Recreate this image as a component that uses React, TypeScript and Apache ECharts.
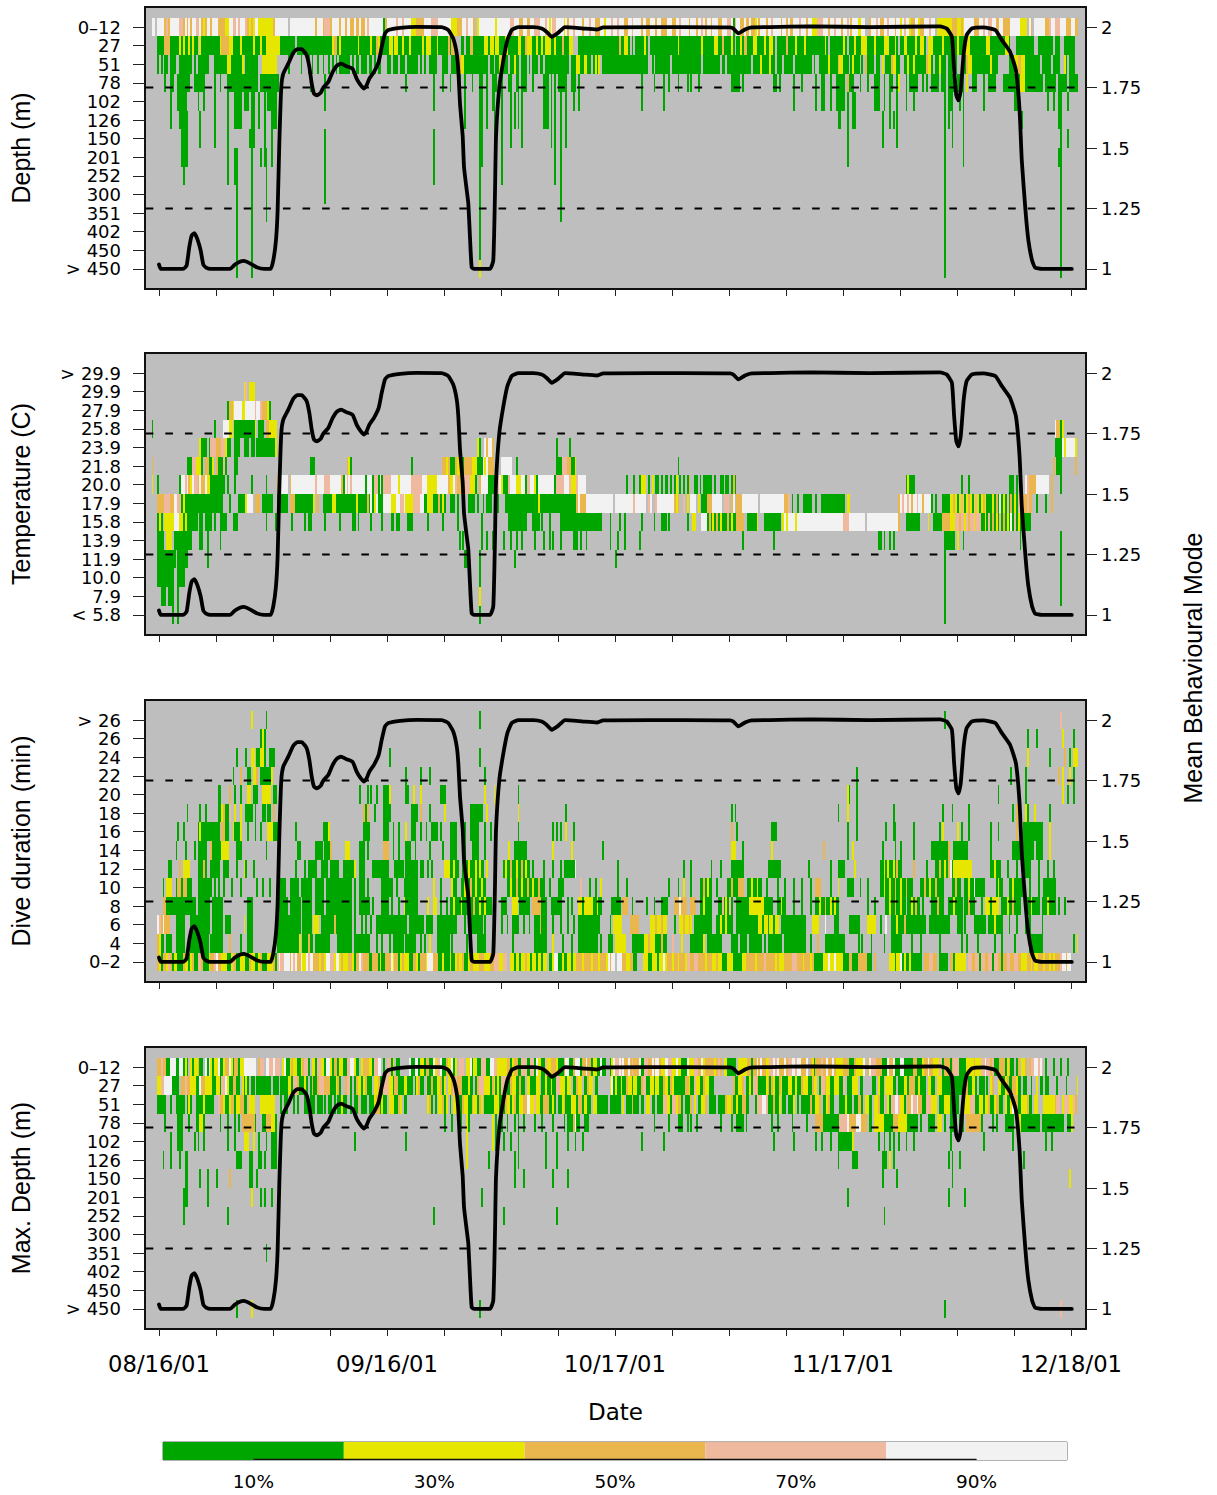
import React, { useEffect, useRef } from "react";
import * as echarts from "echarts";

const FONT = "Liberation Sans";
const WIDE_FONT = "DejaVu Sans";
const palette = ["#00A600", "#E6E600", "#EAB64E", "#EEB99F", "#F2F2F2"];
const codes = "gyopw";
const depthLabels = ["0–12", "27", "51", "78", "102", "126", "150", "201", "252", "300", "351", "402", "450", "> 450"];
const tempLabels = ["> 29.9", "29.9", "27.9", "25.8", "23.9", "21.8", "20.0", "17.9", "15.8", "13.9", "11.9", "10.0", "7.9", "< 5.8"];
const durationLabels = ["> 26", "26", "24", "22", "20", "18", "16", "14", "12", "10", "8", "6", "4", "0–2"];
const modeTicks = [1, 1.25, 1.5, 1.75, 2];
const dashLevels = [1.25, 1.75];
const dateTicks = [0, 31, 62, 93, 124];
const dateLabels = ["08/16/01", "09/16/01", "10/17/01", "11/17/01", "12/18/01"];
const minorTicks = [0, 7.75, 15.5, 23.25, 31, 38.75, 46.5, 54.25, 62, 69.75, 77.5, 85.25, 93, 100.75, 108.5, 116.25, 124];
const legendEdges = [0, 20, 40, 60, 80, 100];
const legendTicks = [10, 30, 50, 70, 90];

const lineDays = [0, 0.25, 3.3, 3.76, 4.12, 4.44, 4.8, 5.21, 5.67, 6.03, 6.48, 7.03, 9.65, 10.33, 11, 11.56, 12.37, 13.28, 14.28, 15.18, 15.54, 15.9, 16.13, 16.36, 16.63, 16.9, 17.58, 18.26, 18.8, 19.4, 20.08, 20.44, 20.76, 21.07, 21.44, 21.98, 22.34, 23.02, 23.62, 24.16, 24.74, 25.51, 26.33, 26.87, 27.42, 27.87, 28.24, 28.6, 29.23, 29.87, 30.28, 30.73, 31.18, 32.77, 35.04, 38.44, 39.33, 40, 40.48, 40.7, 40.93, 41.29, 41.47, 41.84, 42.06, 42.28, 42.51, 42.83, 45, 45.45, 45.68, 45.82, 46.27, 46.82, 47.36, 47.96, 48.86, 50.9, 52.04, 52.72, 53.4, 54.3, 55.2, 57.69, 59.5, 60.4, 66.75, 71.25, 77.63, 78.08, 78.76, 79.67, 80.58, 83.07, 88.5, 96.65, 106.2, 107.1, 107.8, 108.1, 108.4, 108.7, 109, 109.4, 109.8, 110.5, 112.1, 113.7, 114.6, 115.7, 116.5, 117, 117.3, 117.8, 118.2, 118.7, 119.1, 120, 124.1];
const lineModes = [1.018, 1, 1, 1.014, 1.09, 1.138, 1.148, 1.124, 1.076, 1.018, 1.004, 1, 1, 1.018, 1.03, 1.033, 1.023, 1.007, 1, 1, 1.035, 1.117, 1.24, 1.518, 1.753, 1.808, 1.849, 1.894, 1.909, 1.909, 1.884, 1.836, 1.767, 1.725, 1.718, 1.728, 1.75, 1.773, 1.815, 1.84, 1.849, 1.838, 1.827, 1.787, 1.76, 1.746, 1.76, 1.787, 1.815, 1.856, 1.918, 1.974, 1.988, 1.997, 2.001, 2, 1.988, 1.953, 1.891, 1.82, 1.68, 1.55, 1.421, 1.325, 1.269, 1.131, 1.007, 1, 1, 1.035, 1.311, 1.546, 1.753, 1.863, 1.946, 1.988, 2, 2, 1.994, 1.98, 1.96, 1.977, 2, 1.994, 1.99, 1.999, 2, 2, 1.999, 1.994, 1.974, 1.99, 1.999, 2, 2.003, 2, 2.003, 1.994, 1.96, 1.822, 1.718, 1.697, 1.739, 1.89, 1.967, 1.994, 1.999, 1.988, 1.946, 1.898, 1.822, 1.656, 1.449, 1.242, 1.117, 1.035, 1.006, 1, 1];

// Rows are read top to bottom. Positions count quarter-days from the first recorded bin.
const depthRows = [
  "@0:2w.4wopo5w2pow1o1w1o2w2pwoyo2wo3w4o2y2w2pwp3wpoyoy2w8yo7w.14wo3wo3po2w @100:2wo2wo2w2ow2ow2owp8wgo5wp2wp4w3y4o4w4p7w3y3o @169:2wp3wo.y3w6wy7w2p3w2o2w2o2w3p3wpwyw2pw3wywo2wp3wo @232:2wo3wp2w3o2wy3wp2wp3w2o2wp4wo2w2o3wo2w3o3w2o2wp3w @290:2wo3wo2wpwo2wo3w2o3w2pwgp2w2ow2ow2oywo3wo2wp3w @340:2wo2wow2o3wp3wo2w3y3p3wo2wp3wo2wpwo3w2y2w @390:o3wpw2o2wp3wo2wywp2wy2o2wy2o3wp2w @427:8y3o2yoy5w3o2wp2w2p2w2o2w4o5w4y.wo.6w2op2w3p3w3o2w2o",
  "@3:4g3o5gygy2gygy2g.y2g2g2g4gy4o2y2g2gy4g2gyg2gy2g8yg7g.19gy2ogyg2g2gyg3gy2g2g @108:4gy2g.3gy2goy2g3g2yg2y2gyg2gyg5gyg3y3gy2g3gog2o @168:2g.2g2o6g2yg2yg2y3g2yg4g2y2go3y2gy2gyg3y2gy3go3g2y @232:22go2g2yg.g.5gyg.5g2g2gy3g3y2gy2g @280:6gy4g2g6gy6g2y2go4gyg.2gyg2o3g2yg3gy2g @336:2yg.5go2g2gy2g2gyg4g5gyg.7gyg.3gy3g3yg2yg @390:3gyg3g3y3gyg.2g2yg3gy2g2yg.3y5gy2g5gy3g.g @440:2g3y3g6g2y8g2yg. @470:10g2.8g.3g2.6g",
  "@3:g.g.2g.3g2.7g.g.6g3.7g2y6gy.7g2.8y6.g6.g3.g.g2.g2.g2.g.g.g.4g @106:2g.g.2g.3g.2g.g.2g3.2g.3g.3g.6g.g.g2.4g3.3g2.4go2yg2.2g.2g.3g @170:3g.9g.2g.2gy.3g.2gy2g.3g.g.3g.2g.g.3g.6g @214:6g.4g.g.3g2y2g2y2g.gygy.4g.4g @248:22g2.g.8g.16g.9g.2g.10g.g2.g.10g @320:2g.3g.4gyg2.gy2g.2g @335:gy2g.g.g.5g.9g.g2.5gy4go2y3g.gy3g.g @388:o4g.2g.y.3go2y2g2.2gy2gy6go2yg.2gy3g.2g.2g3.2go2y.3g.g @446:5g.4gy3g. @466:3g2y2o2y3g5g.5g.4g2.yg.3g",
  "7 10-11 14-20 23-28 34 37 41-49 50-57 59-68 86 94 138 153 158 162 167 170 174 178-179 182 185-187 190 194-195 198 199 201-203 207 213-215 217 219 221-225 228-230 232 266 273 278 281 286 291 293 297 315-318 319 321 338-339 341 349 353 361 364-365 369 372-376 378o 379-381 385 389 393-395 398 401-402 405 406y 410 412-416 419 421 424-427 429-431 433-436 438-441 443y 446-448 452 455-458 463-468 469-471 472-474y 475-484 486-491 493-497 499-503",
  "10 14-18 25 28 34 41 45-48 50-52 54-55 58 61 63-67 94 153 167 170 178-179 182 185-186 190 195 197 199 201 213-215 217 219 222 225 229 232 266 278 349 361 364-365 369 372-376 378 381-382 393-395 398 401 405 410 414 431 433-435 439 441 452 469-470 487 490 493-494 498",
  "10 15-19 26 34 41 45-48 54-55 58 61 65-67 170 178-179 182 186 190 195 197 199 201 213-215 217 219 222 225 373-374 378 381-382 397 401 403 405 431 433 435 441 473 493 494",
  "16-19 26 34 41 53-55 61 65 94 153 178-179 186 190 195 201 217 219 222 225 378 397 405 431 435 441 494 498",
  "16-19 41 45-46 54 59 61-62 65 94 153 178-179 190 219 222 378 431 441 493-494",
  "17 41 45-46 54 62 94 153 178 190 219 222 431 494",
  "46 54 62 94 178 222 431 494",
  "46 54 62 178 222 431 494",
  "46 54 178 431 494",
  "46 54 178 431 494",
  "46 54 178y 431 494",
];
const tempRows = [
  "",
  "50y 51p 53-55y",
  "41 42-43o 44y 45-48w 49-50y 51-55w 56p 57-58w 59p 60-62o 63y 64",
  "0 34 39-41w 42-43y 45-48 49-55 56y 58-60 62-64o 64-67y 491w 492-493o 494g 495y",
  "26y 27-29 31 32-34p 35-37o 38-39p 40y 41-42 45-47 50-52 54-55 57-60 61-66 67y 177y 178 181w 182o 183-184w 185o 220 227 491-494 495w 496y 497-501w 502y",
  "0o 19-21 22-23p 24-26y 27 29-30o 31-32 33y 35o 36-38 39p 40 45-46 86-88 106o 107y 108 141 158-159o 160y 161o 162-164 165o 166-168y 169 170-173o 174-176y 177-179 180w 181y 182w 183-185o 190-195w 198 220-222 223-225p 226-227o 228-229 230y 286 490o 492-494 502o",
  "0y 3 15 16-17w 18p 19w 20o 21y 22w 23-24p 25o 26w 27-28o 29w 30-31y 32-39 41 45 54 62 68o 69-73w 75o 76-88w 89p 90w 91-93w 94-96p 97-102w 103o 104 105w 106p 107w 108p 109-115w 116 117-119w 120 121-122p 123 124w 125 126-129p 130-133w 134y 135-140w 141-146p 147-149w 150-154y 155w 156-160w 161o 162-163y 164w 165p 166-169o 170-172p 173-175y 176 178o 179-182w 183-186 187-188p 189w 190y 191-193 194p 195-197w 198-200y 201-202w 203 204-205p 206-207w 208y 209 210-215w 216-218w 219 220-223p 224-226w 227p 228-230y 231p 232-235w 258 262 265 266-268y 270 272y 274 275 277 279-280 282 284 285y 287 289 291 292o 295-296 298 300 301-304 306 309-310 312-313 315 316o 317 410 411y 412-414 440 444 466-468 470 475w 476p 477-480o 481-487w 489o 494",
  "3-6o 7-9p 10-11o 12-13w 14-15p 16 17y 18-19 20-38 42 47-48 49-50 51y 52-54w 56-58o 60-63 64-65 68 69y 70-73 75-77o 78-81 82-87 88y 90o 93-97 98-99y 100-107 108-110 111y 112-115 116 117o 118 119w 120 121y 122w 123-124 125 126-129w 130-132y 133w 134w 135-136p 137w 138-141y 142-145p 146-147w 148-149 150-152y 153-155 156o 157 158y 159 162-164 166 169 172-175 177 180 182-184 186 188 192-204 205-215 210y 216-231 231-235o 232w 236-250w 252-261w 262p 263-268w 270p 271w 274p 275-283w 284-286o 285y 289p 291y 293-295w 297y 299-301 302-304o 305-309w 311-313p 315o 316w 318-320o 321-328w 329w 331-343w 344-345o 346p 348 351 354-358 361 364-376 378-379y 406-423w 406o 408p 411p 413o 416p 419o 424 426 430-434 434-455y 436o 438 440p 442 444o 446 448p 450 452o 454 455-473 457y 459o 461w 463y 465p 467o 469y 471p 474-478o 476p 481 486 489o",
  "3 4y 5 7-9y 10-11y 12-14w 15-16y 17 18y 19-24 26-27 29-32 34 37-40 44-46 46 62 67 76 83 85-86 94 102 109-110 112 119 125 130-131 133 134 139-141 150 158 166 179 186 194-203 207-209 210 212 216 222-235 235-243 244 249 254 257 266 273 277-279 281 291 294-295y 299-301w 302-318 303o 305y 307o 309y 311 313o 315y 318-321o 324-328 329y 333-341 343y 344w 345y 346-349w 350y 351-363w 364-376w 376-379p 379-387w 389-393w 393-406w 406o 410-416 417 422y 425-430 430-434o 434-437y 437-451p 439o 442y 444o 447y 449p 451-473 453y 455p 457o 459y 461p 463o 465y 467w 469p 471y 474-477",
  "3 4-6 8-10y 12-13 14-21 26-27 30 37 167 169 179 182 185 191 195 198 201 208 213 216 218 222 229-231 233 236 249 253 257 265 321 338 395 395-396 398 401 403 431 431-436 438y 441 472 494",
  "3-12 14-19 30 170-171 178 197 252 431 494",
  "3-11 14-17 178 431 494",
  "5-7 9-11 14 178y 431 494",
  "11 14 178 431",
];
const durationRows = [
  "54y 62 178 431 494p",
  "59-61 60y 476 481 495y 501",
  "46 51 54-55y 57-58 59-60y 61 64-66 129 178 476y 488 496o 499 501-503y",
  "44 48o 52-53 55-56y 57o 59-61 62-64 65y 138 146 151 181 383 467 475 493o 495y 499y 501",
  "36 37 42o 45 48 52-53y 55 56-57 60-64y 66-67 113 117 119 122 126-129 129y 138-139 142y 146y 157-159 181y 186y 199 378y 379 383 460 475 495y 498 501",
  "19 26 29 36-37 38y 39o 40-41 42p 45y 48y 51-54 56 60-61 63-64 66o 115o 116 117o 121 126-129 141-144 146o 151 159y 173-179 182y 187y 199y 225 315 317 373 378y 383 403 430 435 444 468 470o 475y 476 480y 488",
  "14 17 25 26y 27-31 32-36 38-39o 40-41 44y 45-47 48y 52 56 59 63-65y 66-68 78 93-96 96y 115-118 126-128 131 134 138y 141-143 146 149 152-155 157 162-165 170 173-177 181 184 199 218 220 222 225y 229 315o 318 337-339 378 383 399 403-404 414 428 430y 438y 440 444 456 460 470o 474-484 488y",
  "13 18 23 25-29 32o 33-37 38-41y 46-48 62 79-80 89-92 94-97 97o 105-107y 113-115 117 126-128o 131 134 138-140 143 151 158 162-165 170 174-177 181 186 194y 197-203 218y 228y 245 315-317y 321 337y 365o 378 381y 397 404 407 414 424-433 433o 436-443 456 468-479 481-484 488y",
  "9-10 15o 17-20y 25-29 28o 32-36 39-41 46 50y 51 55 78 83 85-89 92-95 97-101 104-109 110y 113-115 120-128 132-136 138-144 146-147 150 152 159-161y 162-166 164y 169-180 172y 176y 178y 182y 187y 191-205 192y 195o 198y 201o 203y 207 213 218 222 224-229 230w 253 289 293 304 309 315-321 335-341 357 369 373-376 382y 396-407 398y 400y 403y 405o 414o 421 426-435 428o 431y 433o 434w 436-445y 456-461 458y 465 470 474-477 482 487 490",
  "6 8-10y 13-21 14-15o 17-18o 25-31 32 34 36 39 43 48 57 60 64 68-72 75-79 81-86 89-93 95-100 101-108 110 113-115 117 125-130 133 137 138-144 153y 157 163-165 163y 168-181 170y 173o 176y 179y 186 193-213 195y 198o 201y 204o 207y 210o 216 221-223 233p 238 241 244y 253 258 281 286 289y 293 298-304 300o 302y 307 313-318 315o 319-321o 324-331 326y 329y 334 340 344 349 353 358 361-363o 369 373y 378-381 385 389 396-413 398y 401y 404o 407y 410o 418-429 420o 423y 426o 430 435-439 437o 442-451 444y 447w 452 459-462 460y 466-473 468y 474 477 482 485-491",
  "6-7o 8-10 11-15 13-18 19-23 25-31 33-38 52-54 68-73 75-80 82-86 89-93 95-100 101-108 110 113-118 120 125-128 130 134 137y 138-144 150y 153-154y 157 160 162-171 164y 168y 172-184 175o 178y 181y 190-192 196-198y 200-205 207-211o 212-214 217-222 226 228 232-239y 234 240-244 242y 250-254 256-258o 261 269 273 277-280 284-290o 287w 293-295o 298-304 300y 308-315 310p 312y 314p 318-324 325-332y 333-337 340-344 342y 349 353 358 361-373 363y 366o 369y 371y 389 393 399-409 401y 404o 407y 411-417 413y 415o 419 424-430 427o 433-440 436y 442-447 444o 451 453-460y 456 462-472 465y 468o 475-482 478y 484-491 487y 493 496",
  "3w 4p 5o 6w 7-9o 13-17 21-24 25-31 33-38 40-42 50y 52-54 68-80 82-86 88-90y 92-98 99o 100-108 110 114 116 119 122-130 131-138 140-147 149-152 155-161 162-165 170 173-179 181 186 190 193 196-199 202 205 208-214 211o 218 222 226 229 232-237 236-243 249 251-255y 260-264o 271-279y 274o 277o 284 287-293y 289o 292o 295-304 307-315 309y 312y 318-329 330-340y 332 335 338 342-355 359-362y 366w 371-373 379-384 389-393y 396 399w 402-413 405y 409o 414-420 423-428 429-433 438-440 442 447-453 455-462 458y 466 470 475 477 484",
  "3o 4y 5-6 8-10 13-17 21-24 25-30 32-38 42o 48 52-54 68-80 80y 82-84 85o 86-87 89-96 101-108 110-115 116-118 122 125 129 131-136 138-143 146 148 151y 155-161 163 171 177-181 185 196 208-214 218y 223 228 232-236 237-242 244 248-250 252-257y 261-268 268-273y 270o 274-279 277o 283p 288y 293-299 300y 302-309 315-318 320-323 325-331 333 335-342 344-355 358 362o 366-376 384 386 391 398 402-407 413 418 428 440 443 449 458 462 469 477-484 501 503y",
  "@3:oyg2oypog2y3go2ygyo2g2po3gy2opw2o3y2gypo2g3y2go2y2gyo3g3yog2p @69:w2p3wowpw2ow2ywp2w3oy2oy2w2py2wyo3y2oyg2owp3o2g2y @120:3ogy2g3owy2ogyo3y2g2oyg3oy3w3o2gy3g2oy2og @162:y2gyo2yo2gy @173:2o3y3o3y2o @186:3p2y2p2 @195:2yg2yg2yo2yg2yg2yg2y @216:2gy2w @221:2gy2g2y2g @229:2y3oy2o @237:2oy3oy3oy @248:wo2w.3w2o @258:2y2o2g @267:3y2g3yg2ywy @280:3oy2oy3o2y2 @291:2p2o2p @297:4oy3o2yo2y @310:3g @313:3y5g2y @323:5oy4op5oyo4y @344:4o3p3oy3oyo2p3o @360:5g @365:3yw2yw2y @373:3y @376:3g2o3g2o @386:3o3g @393:o @401:3yg2ywgy2gy2 @413:3g3g @420:3o2p2o @428:2g3g @434:2o2g @437:4y2y @444:2p2o2pg2p2o2pg2p2og2o2p2o2p2og @473:3y2oyo2y3oy2oyo2y @491:3op2wo2w",
];
const maxDepthRows = [
  "@3:2op2o2g3w2g2wgyg.yg2yo2g.wgwyg2yw2gy2owyg2og2y7w.o2p.2w2pw3p.yw2g.2y2p @74:gyo2y2gyo2pg.2yg2p2yg2wyg2og2y2g2p2wy2g.y3o2yg2p2w.g.2pgy.2g @140:w2g2wg2yg2o2gwy2pw2go2ywgy.3p.2ywg2y2g3p2g2w2p2y2g @190:3y2ogy2o2g3p2g2pgw2y2gp2y3oy3go2w2go3wg2ow2og2y2gw2g @249:gyw2pwpw2owop3ow2g2p2owo2wo2y2w2p2yw2y3gw3y2p2owy3o @304:2oyopo.2y5g.5y2og2owow2o2y2pwpwo2owo2p2wp2w3ow.oyg @360:g3op2ow2owo4y3o3go4yw.ow3p3o3gw2o @403:w3g2w5g2o3gy2ow2o3y2pgo2ogo3p4g2y2yoy2y2pw2popw @458:3g3ogyo2g.go.2yo.o2p2wpwp.g.2.g3.g3.g",
  "@3:2y2pw3w4g.2op2o3y2gw2o4y2g2yg2pwy2g2o2g.ygyg.2g.2g6g.3g.6g.2y2o2gyo @74:2yg2po3g.g.go2go3p3o3gyog2.o2pg.go2ygyo3g.2yo2g3p2yg @132:2o3g2y3g.gyo2g.p2go2g2yogy.2yo2p3o3gy2g.go3p3ygoy2g @188:yg3p2go2y2go2g.2y3g2y.2gy2gy2g2p3yg2y.2go2y.2go2y.2g @249:ywgy2gy2go2yg2y2go2p2g2yg2y2go2ygoy6g2oy2gp2y2go2y3g @316:o2g2yo.2gyg2po4gyogoy2goy3g2y2gy2go3y2go2y.g2po2y2g3y2gp.3g3y.2g @392:2g.y2g.4y2g.3g2yg3o2gy3g.2y2g.3y3g5g4g2o2g2yg.3g.g.yo @460:2y2gyo2g2oy2g.2g2.g2.y.2g.2g 492 497 503y",
  "@3:5g2.g2.5g.gyg2.4gy5g2.p2oy2gy2og2y2o2gp3y3.8y3.g.2g3.g.g3.2g.g.g @87:2g.3g.g.2g.g.2gy2g2.g.2go.3g.3gy2ogy2g.3y2goy.2g @150:yog.g.2yogy.g.2yo2go2y2go2ygoy.5g3y3go2y2go3g2y2g @196:y.2g2y2o2w2yp2y2g3o2gyg.2gyo3g3yg2og2y2g.2y6g @249:6g.y.3go3g.2g.2y.2g.3g2p2yg2py2og.3go.y.2g2yo.4g.2g.yg @310:2go2yo2gy2g2o2g3.g3p2wp3go2gy.2g.3gy.g.5go2g2yo.2gyo2g @372:2.3gy3g.2g2og.2y2g.2yo2gp.yg2p2wp2yg.2ow2pw2o2g3p3y.3g3y2go2g @440:2w3y3p2g2yg2yo2gy2o2g.y2gyw2o2g3yo2g.2y @485:6yo2p.y3p2ypo",
  "7 14-16 20 24-25 26-27y 28 37 41 45 47 49-55o 56 60-61 62-64o 65-66y 67 159 163 167-168 171y 172 185y 187 190 193 197 199 202 208 212 218 224 226-228 229o 230w 231 232 235-237 273 281 286-288 291 293 296 309 315 318-320 321 323 337 340 348 356 361-364o 365-368 369-373 374-377p 378w 379-382o 383-385w 386-388o 390-391 393-397y 398-402 403-405o 406-410y 411-416 418 422-425 427-429y 431 434-437 439-441 443-450o 451 457 459 464 465-468 470-472y 473-476 477-482 484-490 491-493 494 495 498-499 500y",
  "10 14-16 23 25 28 41 45 50-52y 55y 58 62 65-67 110 138 167 171y 185y 187 191 195 199 214 220 226 230 234 266 278 338 349 361 364 369 373-380 381y 395 398 401 403 406 410 414 434 452 468 471 486 489",
  "6 10 15 18-19 46-48 53-54 58-59 61 65-67 171y 183 197 199 214 220 373 381-383 397-399 401y 403 433 435 439 474",
  "18-19 26 30 35 42o 53-54 57 197 202 218 226 397 405 435 499y",
  "17-19 30 54y 59 61 65 179 378 433 442",
  "17 41 153 191 220 398",
  "",
  "62",
  "",
  "",
  "46 54y 178 431 494p",
];

const panels = [
  { title: "Depth (m)", labels: depthLabels, rows: depthRows, top: 7 },
  { title: "Temperature (C)", labels: tempLabels, rows: tempRows, top: 353 },
  { title: "Dive duration (min)", labels: durationLabels, rows: durationRows, top: 700 },
  { title: "Max. Depth (m)", labels: depthLabels, rows: maxDepthRows, top: 1047 },
];

function parseRows(rows: string[]) {
  const out: number[][] = [];
  const push = (a: number, b: number, r: number, c: number) => out.push([-1 + a / 4, -1 + b / 4, r, c]);
  rows.forEach((text, r) => {
    text.split(" ").filter(Boolean).forEach((t) => {
      if (t[0] === "@") {
        const m = /^@(\d+):(.*)$/.exec(t)!;
        let pos = +m[1];
        for (const g of m[2].matchAll(/(\d*)([gyopw.])/g)) {
          const n = g[1] ? +g[1] : 1;
          if (g[2] !== ".") push(pos, pos + n, r, codes.indexOf(g[2]));
          pos += n;
        }
      } else {
        const m = /^(\d+)(?:-(\d+))?([gyopw])?$/.exec(t)!;
        const a = +m[1];
        const b = m[2] ? +m[2] : a;
        push(a, b + 1, r, m[3] ? codes.indexOf(m[3]) : 0);
      }
    });
  });
  return out;
}

function renderCell(_: any, api: any) {
  const a = api.coord([api.value(0), api.value(2) - 0.5]);
  const b = api.coord([api.value(1), api.value(2) + 0.5]);
  const x = Math.round(a[0]);
  const y = Math.round(a[1]);
  return {
    type: "rect",
    shape: { x, y, width: Math.max(1, Math.round(b[0]) - x), height: Math.round(b[1]) - y },
    style: { fill: palette[api.value(3)] },
  };
}

function renderLegendCell(_: any, api: any) {
  const a = api.coord([api.value(0), 1]);
  const b = api.coord([api.value(1), 0]);
  return {
    type: "rect",
    shape: { x: a[0], y: a[1], width: b[0] - a[0], height: b[1] - a[1] },
    style: { fill: palette[api.value(2)] },
  };
}

function renderDash(_: any, api: any) {
  const a = api.coord([-1.8, api.value(0)]);
  const b = api.coord([124.8, api.value(0)]);
  return {
    type: "line",
    shape: { x1: a[0], y1: a[1], x2: b[0], y2: b[1] },
    style: { stroke: "#000", lineWidth: 2, lineDash: [7.6, 12] },
  };
}

function buildOption() {
  const grid: any[] = [];
  const xAxis: any[] = [];
  const yAxis: any[] = [];
  const series: any[] = [];
  const meanLine = lineDays.map((d, i) => [d, lineModes[i]]);
  panels.forEach((p, i) => {
    grid.push({
      show: true, left: 145, width: 941, top: p.top, height: 282,
      backgroundColor: "#BEBEBE", borderColor: "#111", borderWidth: 2,
    });
    xAxis.push({
      gridIndex: i, type: "value", position: "bottom", min: -1.9, max: 126.03, splitLine: { show: false },
      axisLine: { show: false, onZero: false },
      axisTick: { show: true, length: 7, lineStyle: { color: "#222", width: 1 }, customValues: minorTicks },
      axisLabel: i === 3
        ? {
            show: true, customValues: dateTicks, margin: 23, fontFamily: WIDE_FONT, fontSize: 22.7, color: "#000",
            formatter: (v: number) => dateLabels[dateTicks.indexOf(v)] ?? "",
          }
        : { show: false },
      ...(i === 3
        ? { name: "Date", nameLocation: "middle", nameGap: 71, nameTextStyle: { fontFamily: WIDE_FONT, fontSize: 23, color: "#000" } }
        : {}),
    });
    yAxis.push({
      gridIndex: i, type: "value", position: "left", inverse: true, min: -1.08, max: 14.08, splitLine: { show: false },
      axisLine: { show: false, onZero: false },
      axisTick: { show: true, length: 12, lineStyle: { color: "#222", width: 1 }, customValues: p.labels.map((_, k) => k) },
      axisLabel: {
        show: true, customValues: p.labels.map((_, k) => k), margin: 24, fontFamily: WIDE_FONT, fontSize: 18, color: "#000",
        showMinLabel: true, showMaxLabel: true, hideOverlap: false,
        formatter: (v: number) => p.labels[v] ?? "",
      },
      name: p.title, nameLocation: "middle", nameGap: 112, nameRotate: 90,
      nameTextStyle: { fontFamily: FONT, fontSize: 25, color: "#000" },
    });
    yAxis.push({
      gridIndex: i, type: "value", position: "right", min: 2 - 14.08 / 13, max: 2 + 1.08 / 13, splitLine: { show: false },
      axisLine: { show: false, onZero: false },
      axisTick: { show: true, length: 11, lineStyle: { color: "#222", width: 1 }, customValues: modeTicks },
      axisLabel: {
        show: true, customValues: modeTicks, margin: 15, fontFamily: WIDE_FONT, fontSize: 18, color: "#000",
        showMinLabel: true, showMaxLabel: true,
        formatter: (v: number) => String(v),
      },
    });
    series.push({
      type: "custom", xAxisIndex: i, yAxisIndex: 2 * i, renderItem: renderCell, silent: true,
      encode: { x: [0, 1], y: 2 }, data: parseRows(p.rows), z: 2,
    });
    series.push({
      type: "custom", xAxisIndex: i, yAxisIndex: 2 * i + 1, renderItem: renderDash, silent: true, z: 3,
      encode: { y: 0 }, data: dashLevels.map((m) => [m]),
    });
    series.push({
      type: "line", xAxisIndex: i, yAxisIndex: 2 * i + 1, symbol: "none", silent: true, z: 4, smooth: 0.15,
      data: meanLine, lineStyle: { color: "#000", width: 3.8, join: "round", cap: "round" },
    });
  });
  grid.push({ show: true, left: 163, width: 904, top: 1442, height: 18, borderColor: "#666", borderWidth: 1 });
  xAxis.push({
    gridIndex: 4, type: "value", min: 0, max: 100, splitLine: { show: false },
    axisLine: { show: false, onZero: false },
    axisTick: { show: false },
    axisLabel: {
      show: true, customValues: legendTicks, margin: 12, fontFamily: WIDE_FONT, fontSize: 18.5, color: "#000",
      formatter: (v: number) => `${v}%`,
    },
  });
  yAxis.push({ gridIndex: 4, type: "value", min: 0, max: 1, show: false });
  series.push({
    type: "custom", xAxisIndex: 4, yAxisIndex: 8, renderItem: renderLegendCell, silent: true,
    encode: { x: [0, 1], y: 2 },
    data: palette.map((_, i) => [legendEdges[i], legendEdges[i + 1], i]),
  });
  series.push({
    type: "line", xAxisIndex: 4, yAxisIndex: 8, symbol: "none", silent: true, z: 4,
    data: [[legendTicks[0], 0.03], [legendTicks[4], 0.03]],
    lineStyle: { color: "#111", width: 1.2 },
  });
  return {
    animation: false,
    backgroundColor: "#fff",
    grid, xAxis, yAxis, series,
    graphic: [
      {
        type: "text", x: 1193, y: 668, rotation: Math.PI / 2,
        style: { text: "Mean Behavioural Mode", fontFamily: FONT, fontSize: 25, fill: "#000", textAlign: "center", textVerticalAlign: "middle" },
      },
    ],
  };
}

export default function App() {
  const ref = useRef<HTMLDivElement>(null);
  useEffect(() => {
    const chart = echarts.init(ref.current!, undefined, { renderer: "svg" });
    chart.setOption(buildOption() as any);
    return () => chart.dispose();
  }, []);
  return <div ref={ref} style={{ position: "absolute", left: 0, top: 0, width: 1217, height: 1495 }} />;
}
